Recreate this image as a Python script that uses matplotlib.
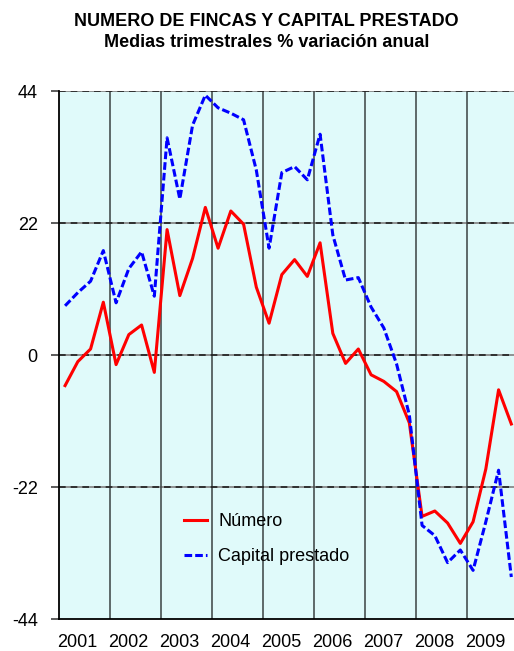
import numpy as np
import matplotlib
matplotlib.use('Agg')
import matplotlib.pyplot as plt

plt.rcParams['font.family'] = ['Liberation Sans', 'DejaVu Sans']

# ========== data (quarterly, % annual change) ==========
years = [2001, 2002, 2003, 2004, 2005, 2006, 2007, 2008, 2009]
numero = [-5.1, -1.1, 1.0, 8.8, -1.6, 3.4, 5.0, -2.9,
          20.9, 9.9, 16.1, 24.6, 17.8, 24.0, 21.8, 11.3,
          5.3, 13.4, 15.9, 13.1, 18.7, 3.6, -1.4, 1.0,
          -3.3, -4.4, -6.1, -11.3, -26.9, -26.0, -28.0, -31.4,
          -27.8, -19.0, -5.8, -11.5]
capital = [8.2, 10.4, 12.3, 17.4, 8.7, 14.4, 17.2, 9.8,
           36.2, 26.0, 38.3, 43.3, 41.2, 40.3, 39.2, 30.8,
           17.8, 30.4, 31.4, 29.2, 36.8, 20.0, 12.5, 12.9,
           8.0, 4.5, -1.5, -10.0, -28.4, -30.1, -34.6, -32.5,
           -35.9, -27.8, -19.2, -37.0]

x = years[0] + (np.arange(len(numero)) + 0.5) / 4

# ========== plot ==========
fig = plt.figure(figsize=(5.14, 6.51), dpi=100)
ax = fig.add_axes([58.7 / 514, 32 / 651, 459 / 514, 528 / 651])
ax.set_facecolor('#e0fafa')

# grid
for yv in [-22, 0, 22, 44]:
    ax.axhline(yv, color='#808080', lw=1.2, zorder=1)
    ax.axhline(yv, color='#202020', lw=1.2, ls=(0, (4, 3)), zorder=1.5)
for yr in years[1:]:
    ax.axvline(yr, color='#3a4242', lw=1.1, zorder=1)

ax.plot(x, numero, color='#ff0000', lw=2.2, label='Número', zorder=3)
ax.plot(x, capital, color='#0000ff', lw=2.2, dashes=(2.5, 1.0),
        label='Capital prestado', zorder=3)

ax.set_xlim(years[0], years[-1] + 1)
ax.set_ylim(-44, 44)
ax.set_yticks([-44, -22, 0, 22, 44])
ax.set_yticklabels(['-44', '-22', '0', '22', '44'])
ax.set_xticks(np.array(years) + 0.36)
ax.set_xticklabels([str(y) for y in years])
ax.tick_params(axis='y', length=6, width=1.2, color='#404040', pad=9, labelsize=13)
ax.tick_params(axis='x', length=0, pad=11, labelsize=13)

for side in ['top', 'right']:
    ax.spines[side].set_visible(False)
ax.spines['left'].set_color('black')
ax.spines['left'].set_linewidth(1.3)
ax.spines['bottom'].set_color('black')
ax.spines['bottom'].set_linewidth(1.3)

leg = ax.legend(loc='upper left', bbox_to_anchor=(184 / 514, 1 - 513 / 651),
                bbox_transform=fig.transFigure, frameon=False, fontsize=13,
                handlelength=1.3, handletextpad=0.6, labelspacing=1.0,
                borderpad=0, borderaxespad=0)

fig.text(0.519, 1 - 21.7 / 651, 'NUMERO DE FINCAS Y CAPITAL PRESTADO',
         ha='center', va='center', fontsize=13, fontweight='bold')
fig.text(0.519, 1 - 42.7 / 651, 'Medias trimestrales % variación anual',
         ha='center', va='center', fontsize=13, fontweight='bold')

fig.savefig('out.png', dpi=100)
